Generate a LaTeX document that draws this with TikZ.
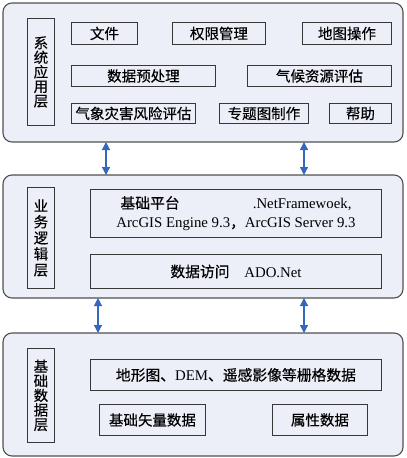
\documentclass[tikz,border=0pt]{standalone}
\usepackage{fontspec}
\setmainfont{Liberation Serif}
\newfontfamily\cjk[FakeBold=0.35]{Noto Sans CJK SC}
\usepackage{tikz}
\usetikzlibrary{arrows.meta}
\definecolor{layerbg}{RGB}{236, 239, 248}
\definecolor{linegray}{RGB}{80, 80, 80}
\definecolor{boxgray}{RGB}{55, 55, 55}
\definecolor{arrowblue}{RGB}{52, 104, 190}

\begin{document}
\begin{tikzpicture}[x=1pt, y=-1pt,
  layer/.style={draw=linegray, line width=1.1pt, rounded corners=9pt, fill=layerbg,
    anchor=north west, inner sep=0pt, outer sep=0pt, minimum width=400pt},
  tag/.style={draw=boxgray, line width=0.9pt, anchor=north west, inner sep=0pt,
    minimum width=27pt, align=center, font=\cjk\fontsize{14.5}{14.5}\selectfont},
  item/.style={draw=boxgray, line width=0.9pt, anchor=north west, inner sep=0pt,
    minimum height=21pt, align=center, font=\cjk\fontsize{14.5}{17}\selectfont},
  wide/.style={item, font=\fontsize{14.8}{19}\selectfont},
  arrow/.style={{Triangle[length=8pt,width=8pt]}-{Triangle[length=8pt,width=8pt]},
    line width=1.2pt, arrowblue}
]
\useasboundingbox (0,0) rectangle (407,458);
\node[layer, minimum height=139pt] (app) at (3,3) {};
\node[layer, minimum height=123pt] (logic) at (3,175) {};
\node[layer, minimum height=123pt] (base) at (3,333) {};

\node[tag, minimum height=107pt] (apptag) at (27,18) {系\\统\\应\\用\\层};
\node[tag, minimum height=101pt, font=\cjk\fontsize{14.5}{16}\selectfont] (logictag) at (27,187) {业\\务\\逻\\辑\\层};
\node[tag, minimum height=94pt] (basetag) at (27,348) {基\\础\\数\\据\\层};

\node[item, minimum width=66pt, minimum height=22pt] (file) at (71,22) {文件};
\node[item, minimum width=93pt, minimum height=22pt] (auth) at (172,22) {权限管理};
\node[item, minimum width=89pt, minimum height=22pt] (mapop) at (302,22) {地图操作};
\node[item, minimum width=144pt] (prep) at (71,65) {数据预处理};
\node[item, minimum width=144pt] (climate) at (247,65) {气候资源评估};
\node[item, minimum width=124pt, minimum height=20pt] (hazard) at (71,103) {气象灾害风险评估};
\node[item, minimum width=89pt, minimum height=20pt] (thematic) at (219,103) {专题图制作};
\node[item, minimum width=62pt, minimum height=20pt] (help) at (329,103) {帮助};

\node[wide, minimum width=291pt, minimum height=48pt] (platform) at (90,189)
  {\makebox[231pt]{{\cjk 基础平台}\hfill.NetFramewoek,}\\ArcGIS Engine 9.3{\cjk ，}ArcGIS Server 9.3};
\node[wide, minimum width=291pt, minimum height=34pt] (access) at (90,254)
  {{\cjk 数据访问}\quad ADO.Net};

\node[wide, minimum width=291pt, minimum height=31pt] (raster) at (90,359)
  {{\cjk 地形图、}DEM{\cjk 、遥感影像等栅格数据}};
\node[item, minimum width=106pt, minimum height=31pt] (vector) at (99,404) {基础矢量数据};
\node[item, minimum width=95pt, minimum height=31pt] (attr) at (272,404) {属性数据};

\draw[arrow] ([xshift=103pt]app.south west) -- ([xshift=103pt]logic.north west);
\draw[arrow] ([xshift=301pt]app.south west) -- ([xshift=301pt]logic.north west);
\draw[arrow] ([xshift=95pt]logic.south west) -- ([xshift=95pt]base.north west);
\draw[arrow] ([xshift=301pt]logic.south west) -- ([xshift=301pt]base.north west);
\end{tikzpicture}
\end{document}
